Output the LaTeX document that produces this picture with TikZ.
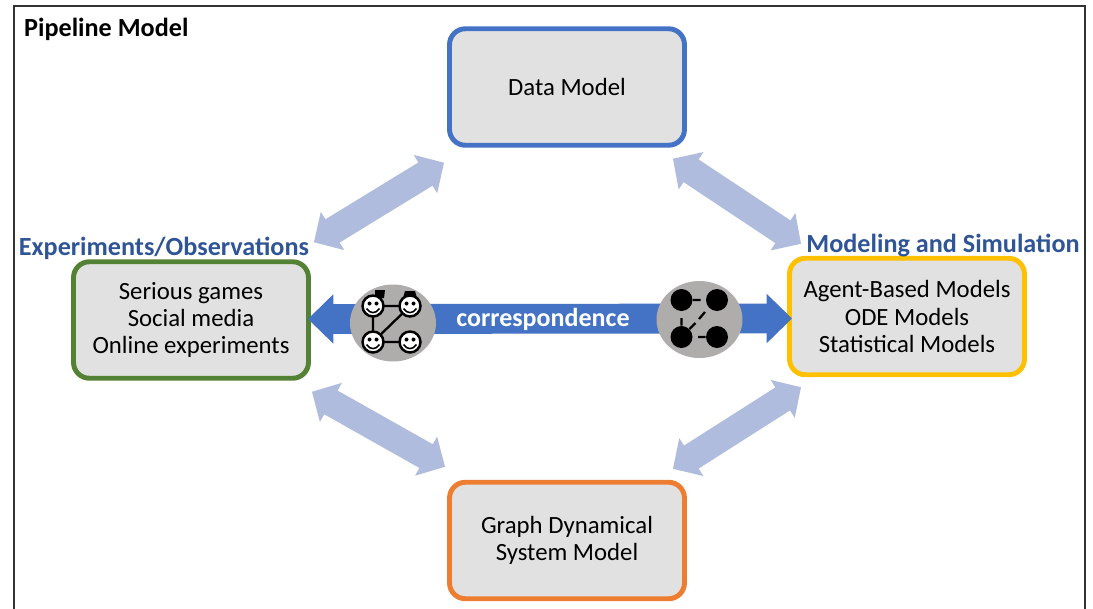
\documentclass[tikz,border=0pt]{standalone}
\usepackage{fontspec}
\setmainfont{Carlito}
\usetikzlibrary{arrows.meta,shapes.geometric}
\definecolor{boxgray}{RGB}{225,225,225}
\definecolor{discgray}{RGB}{175,173,171}
\definecolor{titleblue}{RGB}{47,85,151}
\definecolor{corrblue}{RGB}{68,114,196}
\definecolor{paleblue}{RGB}{176,188,222}
\definecolor{dataline}{RGB}{68,114,196}
\definecolor{expline}{RGB}{84,130,53}
\definecolor{simline}{RGB}{255,192,0}
\definecolor{graphline}{RGB}{237,125,49}
\tikzset{
	modelbox/.style={draw=#1,fill=boxgray,line width=2.8pt,rounded corners=9pt,
		minimum width=4.7cm,minimum height=2.33cm,align=center,font=\fontsize{14.1}{15.5}\selectfont},
	headtext/.style={text=titleblue,font=\fontsize{14.9}{16}\selectfont\bfseries},
	widearrow/.style={draw=corrblue,line width=17pt,
		{Triangle[length=0pt .85,width=0pt 1.6]}-{Triangle[length=0pt .85,width=0pt 1.6]}},
	palearrow/.style={draw=paleblue,line width=15.5pt,
		{Triangle[length=0pt .8,width=0pt 1.6]}-{Triangle[length=0pt .8,width=0pt 1.6]}},
	disc/.style={fill=discgray,ellipse,minimum width=1.72cm,minimum height=1.54cm,inner sep=0pt},
	smiley/.style={circle,draw=black,fill=white,line width=1.4pt,minimum size=.42cm,inner sep=0pt},
	dot/.style={circle,fill=black,minimum size=.44cm,inner sep=0pt},
	tie/.style={line width=1.3pt}
}
\def\drawface#1#2#3{
	\node[smiley] (#1) at (#2,#3) {};
	\fill (#2-3.5,#3-2.5) circle [radius=2];
	\fill (#2+3.5,#3-2.5) circle [radius=2];
	\draw[line width=.9pt] (#2-6.5,#3+2.5) .. controls (#2-3,#3+8) and (#2+3,#3+8) .. (#2+6.5,#3+2.5);}

\begin{document}
\begin{tikzpicture}[x=.02cm,y=-.02cm]
	\useasboundingbox (0,0) rectangle (1093,609);
	\fill[white] (0,0) rectangle (1093,609);
	\draw[line width=1.1pt,color=black!80] (14,640) -- (14,6) -- (1085,6) -- (1085,640);
	\clip (0,0) rectangle (1093,609);
	\node[anchor=west,font=\fontsize{14.9}{16}\selectfont\bfseries] (pipeline) at (18,29) {Pipeline Model};

	% the four models
	\node[modelbox=dataline] (datamodel) at (567,87) {Data Model};
	\node[modelbox=expline] (expmodel) at (191,320) {Serious games\\Social media\\Online experiments};
	\node[modelbox=simline] (simmodel) at (907,316.5) {Agent-Based Models\\ODE Models\\Statistical Models};
	\node[modelbox=graphline] (graphmodel) at (567,540.5) {Graph Dynamical\\System Model};
	\node[headtext] (exphead) at (164,248) {Experiments/Observations};
	\node[headtext] (simhead) at (943,245.5) {Modeling and Simulation};

	% pale arrows round the ring
	\draw[palearrow] ([shift={(-3,15)}]datamodel.south west) -- ([shift={(3,-17)}]expmodel.north east);
	\draw[palearrow] ([shift={(-14,11)}]datamodel.south east) -- ([shift={(14,-12)}]simmodel.north west);
	\draw[palearrow] ([shift={(1,11)}]expmodel.south east) -- ([shift={(-2,-13)}]graphmodel.north west);
	\draw[palearrow] ([shift={(14,10)}]simmodel.south west) -- ([shift={(-14,-11)}]graphmodel.north east);

	% correspondence arrow
	\draw[widearrow] ([shift={(-3,-1)}]expmodel.east) -- ([shift={(5,2)}]simmodel.west);
	\node[text=white,font=\fontsize{14.8}{16}\selectfont\bfseries] (corrtext) at (543,319) {correspondence};

	% people graph
	\node[disc] (peopledisc) at (393,323) {};
	\fill (375,290) -- (385,290) -- (384,298) -- (375,298) -- cycle;
	\fill (405,291) -- (415,291) -- (417,298) -- (403,298) -- cycle;
	\draw[tie] (373,306) -- (410,306) (373,306) -- (373,342) (373,342) -- (410,306) (373,342) -- (410,342);
	\drawface{faceA}{373}{306}
	\drawface{faceB}{410}{306}
	\drawface{faceC}{373}{342}
	\drawface{faceD}{410}{342}

	% model graph
	\node[disc] (nodedisc) at (699.5,319.5) {};
	\node[dot] (dotA) at (681.5,300) {};
	\node[dot] (dotB) at (717,300) {};
	\node[dot] (dotC) at (681.5,337) {};
	\node[dot] (dotD) at (717,337) {};
	\draw[tie] (dotA) -- +(19,0) (dotD) -- +(-19,0) (dotC) -- +(0,-19) (dotC) -- +(14,-14) (699,319) -- (705,312);
\end{tikzpicture}
\end{document}
